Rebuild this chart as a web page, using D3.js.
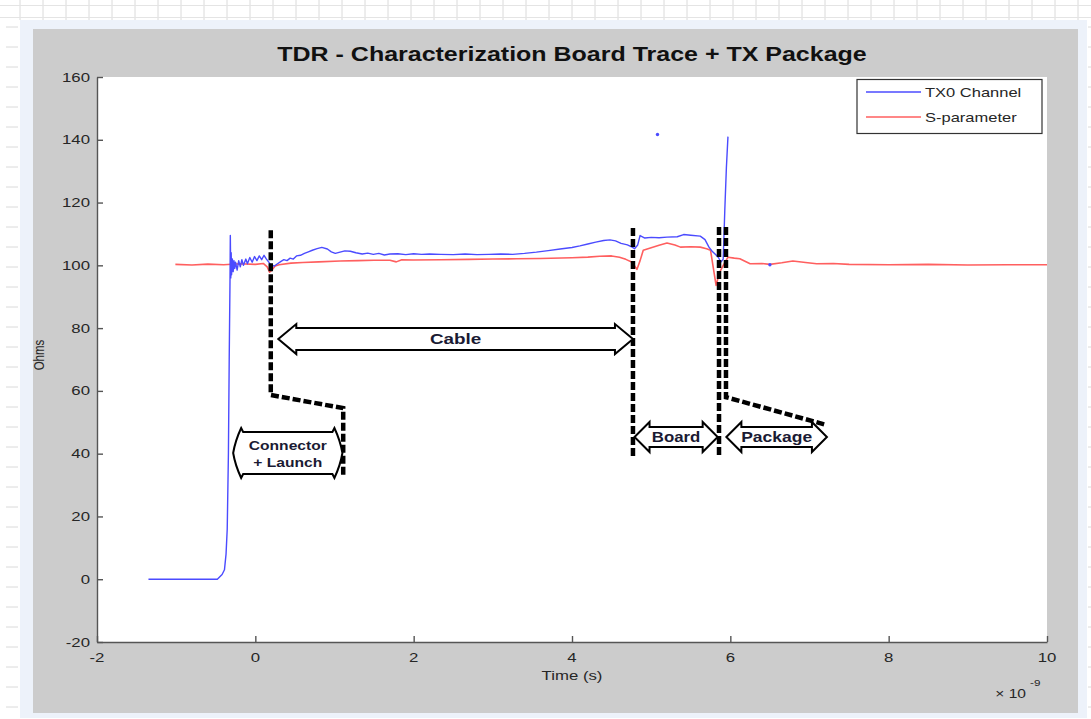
<!DOCTYPE html>
<html><head><meta charset="utf-8">
<script src="https://cdn.jsdelivr.net/npm/d3@7"></script>
<style>html,body{margin:0;padding:0;background:#fff;}svg{display:block;font-family:"Liberation Sans",Arial,sans-serif;}</style>
</head><body><svg id="chart" width="1091" height="719"></svg>
<script>
// ---------------- DATA ----------------
const chartTitle = "TDR - Characterization Board Trace + TX Package";
const xTicks = [-2, 0, 2, 4, 6, 8, 10];
const yTicks = [-20, 0, 20, 40, 60, 80, 100, 120, 140, 160];
const seriesNames = ["TX0 Channel", "S-parameter"];

// TX0 Channel (time in ns, impedance in ohms)
const tx0Time = [-1.35,-0.48,-0.42,-0.39,-0.37,-0.355,-0.34,-0.33,-0.32,-0.316,
  -0.31,-0.305,-0.30,-0.29,-0.28,-0.27,-0.26,-0.25,-0.23,-0.21,
  -0.19,-0.17,-0.15,-0.12,-0.10,-0.07,-0.04,-0.01,0.02,0.05,
  0.08,0.11,0.14,0.17,0.20,0.24,0.28,0.32,0.36,0.40,
  0.44,0.48,0.52,0.57,0.62,0.67,0.72,0.78,0.84,0.91,
  0.96,1.01,1.07,1.13,1.2,1.27,1.35,1.42,1.49,1.56,
  1.63,1.7,1.8,1.9,2.0,2.1,2.2,2.34,2.5,2.65,
  2.8,2.95,3.1,3.25,3.4,3.55,3.7,3.85,4.0,4.1,
  4.2,4.3,4.4,4.48,4.55,4.62,4.7,4.76,4.79,4.83,
  4.86,4.92,5.0,5.1,5.2,5.33,5.41,5.5,5.62,5.68,
  5.73,5.77,5.81,5.85,5.88,5.91,5.93,5.95,5.97];
const tx0Ohms = [0,0,1.5,3,8,16,40,70,95,109.5,
  96,104,97,102,98,101.5,99,101,98.5,101.5,
  99.5,101.8,100,102,100.5,102.5,101,102.8,101.5,103,
  101.8,103.2,102,101,100,99.8,100.5,101.2,101.8,101.5,
  102.3,102.0,103,103.2,103.8,104.3,104.8,105.3,105.7,105.2,
  104.3,103.8,104.2,104.6,104.5,104.0,103.6,103.9,103.5,103.8,
  103.3,103.6,103.7,103.4,103.7,103.5,103.6,103.5,103.4,103.6,
  103.4,103.5,103.6,103.5,103.8,104.2,104.7,105.2,105.7,106.2,
  106.8,107.4,107.9,108.1,107.8,107.0,106.5,105.8,105.3,106.5,
  109.5,108.7,108.9,108.8,109.0,109.1,109.8,109.6,109.3,108.2,
  105.8,104.5,103.5,102.5,101,102,117.5,131,141];
const tx0DotTime = [5.08, 6.5];
const tx0DotOhms = [141.7, 100.2];

// S-parameter
const sparTime = [-1.01,-0.8,-0.6,-0.4,-0.2,0.0,0.1,0.15,0.18,0.21,
  0.25,0.3,0.45,0.6,0.8,1.07,1.3,1.5,1.7,1.78,
  1.85,2.0,2.34,2.7,3.0,3.3,3.6,4.0,4.2,4.35,
  4.5,4.6,4.68,4.76,4.82,4.86,4.9,5.0,5.1,5.2,
  5.3,5.37,5.5,5.62,5.7,5.75,5.79,5.82,5.86,5.9,
  5.97,6.05,6.12,6.25,6.4,6.5,6.65,6.79,6.95,7.09,
  7.3,7.5,8.0,8.5,9.0,9.5,10.0];
const sparOhms = [100.3,100.1,100.4,100.2,100.5,100.3,100.6,99.5,97.8,98.5,
  99.8,100.2,100.7,100.9,101.1,101.4,101.5,101.6,101.6,101.1,
  101.8,101.7,101.8,101.9,102.0,102.1,102.2,102.4,102.6,102.9,
  103.0,102.6,101.9,101.0,98.7,101.5,104.8,105.6,106.4,107.1,
  106.5,105.8,105.9,105.8,105.3,104.8,98.4,93.6,97.5,99.5,
  102.6,102.3,102.1,100.5,100.6,100.3,100.8,101.4,100.9,100.5,
  100.6,100.3,100.2,100.3,100.1,100.2,100.2];

// Annotation dividers (time ns, ohms)
const dividerTime = [[0.195,0.195,1.11,1.11],[4.77,4.77],[5.857,5.857],[5.945,5.945,7.22]];
const dividerOhms = [[111.2,58.7,54.5,33.2],[111.9,38.3],[112.2,38.6],[112.2,58.0,49.1]];

// Region arrows
const regionLabels = [["Cable"], ["Connector", "+ Launch"], ["Board"], ["Package"]];
const regionStart = [0.29, -0.28, 4.79, 5.95];
const regionEnd   = [4.77, 1.10, 5.84, 7.22];
const regionOhms  = [76.5, 40.2, 45.3, 45.3];

// ---------------- LAYOUT / STYLE ----------------
const W = 1091, H = 719;
const plot = {left: 97, right: 1047, top: 77, bottom: 642};
const blue = "#4b4bff", red = "#ff5f5f";
const SX = 1.37; // horizontal stretch of the screenshot text

const svg = d3.select("#chart");

// spreadsheet-like background
const bg = svg.append("g");
for (let x = 20; x < W; x += 23) bg.append("line").attr("x1", x).attr("x2", x).attr("y1", 0).attr("y2", 20).attr("stroke", "#dadada");
bg.append("line").attr("x1", 0).attr("x2", W).attr("y1", 5.5).attr("y2", 5.5).attr("stroke", "#e4e4e4");
bg.append("line").attr("x1", 0).attr("x2", W).attr("y1", 17.5).attr("y2", 17.5).attr("stroke", "#e4e4e4");
for (let y = 27; y < H; y += 20) {
  bg.append("line").attr("x1", 6).attr("x2", 18).attr("y1", y).attr("y2", y).attr("stroke", "#dadada");
  bg.append("line").attr("x1", 1088).attr("x2", 1091).attr("y1", y).attr("y2", y).attr("stroke", "#dadada");
}
svg.append("rect").attr("x", 20).attr("y", 20).attr("width", 1067).attr("height", 698).attr("fill", "#edf2fa");
svg.append("rect").attr("x", 33).attr("y", 29).attr("width", 1045).attr("height", 684).attr("fill", "#cccccc");
svg.append("rect").attr("x", plot.left).attr("y", plot.top).attr("width", plot.right - plot.left).attr("height", plot.bottom - plot.top).attr("fill", "#fff");

function stext(g, x, y, str, o = {}) {
  const sx = o.sx || SX;
  return g.append("text")
    .attr("transform", `translate(${x},${y})` + (o.rotate ? " rotate(-90)" : "") + (o.rotate ? ` scale(1,${sx})` : ` scale(${sx},1)`))
    .attr("text-anchor", o.anchor || "middle")
    .attr("font-size", o.size || 12)
    .attr("font-weight", o.weight || "normal")
    .attr("fill", o.fill || "#262626")
    .text(str);
}

const x = d3.scaleLinear().domain([-2, 10]).range([plot.left, plot.right]);
const y = d3.scaleLinear().domain([-20, 160]).range([plot.bottom, plot.top]);

// axes
const xAxis = svg.append("g").attr("transform", `translate(0,${plot.bottom})`)
  .call(d3.axisBottom(x).tickValues(xTicks).tickSizeInner(-6).tickSizeOuter(0).tickFormat(""));
const yAxis = svg.append("g").attr("transform", `translate(${plot.left},0)`)
  .call(d3.axisLeft(y).tickValues(yTicks).tickSizeInner(-6).tickSizeOuter(0).tickFormat(""));
[xAxis, yAxis].forEach(a => { a.selectAll("path,line").attr("stroke", "#555").attr("stroke-width", 1.4); });
const tl = svg.append("g");
xTicks.forEach(t => stext(tl, x(t), plot.bottom + 20, String(t), {size: 12, sx: 1.4}));
yTicks.forEach(t => stext(tl, plot.left - 7, y(t) + 4.5, String(t), {size: 12, sx: 1.4, anchor: "end"}));

// titles
stext(svg, (plot.left + plot.right) / 2, 61, chartTitle, {size: 20, sx: 1.25, weight: "bold", fill: "#111"});
stext(svg, (plot.left + plot.right) / 2, 680, "Time (s)", {size: 12, sx: 1.4});
stext(svg, 44, 355, "Ohms", {size: 11.5, sx: 1.3, rotate: true});
stext(svg, 1026, 698, "\u00d7 10", {size: 12, sx: 1.3, anchor: "end"});
stext(svg, 1030, 686, "-9", {size: 9, sx: 1.3, anchor: "start"});

// data lines
const line = d3.line().x(d => x(d[0])).y(d => y(d[1]));
svg.append("path").datum(d3.zip(sparTime, sparOhms)).attr("d", line)
  .attr("fill", "none").attr("stroke", red).attr("stroke-width", 1.6).attr("stroke-linejoin", "round");
svg.append("path").datum(d3.zip(tx0Time, tx0Ohms)).attr("d", line)
  .attr("fill", "none").attr("stroke", blue).attr("stroke-width", 1.4).attr("stroke-linejoin", "round");
svg.append("g").selectAll("circle").data(d3.zip(tx0DotTime, tx0DotOhms)).join("circle")
  .attr("cx", d => x(d[0])).attr("cy", d => y(d[1])).attr("r", 1.7).attr("fill", blue);

// dashed dividers
const ann = svg.append("g");
dividerTime.forEach((ts, i) => {
  ann.append("path").datum(d3.zip(ts, dividerOhms[i])).attr("d", line)
    .attr("fill", "none").attr("stroke", "#000").attr("stroke-width", 4.5)
    .attr("stroke-dasharray", "8,3").attr("stroke-linejoin", "miter");
});

// double arrows
const arrowStyle = [
  {hs: 11, hh: 15, hl: 18, curved: false, size: 14.5, sx: 1.3},
  {hs: 21, hh: 25, hl: 10, curved: true, size: 12.5, sx: 1.25},
  {hs: 10, hh: 15, hl: 15, curved: false, size: 14, sx: 1.2},
  {hs: 10, hh: 15, hl: 15, curved: false, size: 14, sx: 1.25}
];
regionLabels.forEach((lab, i) => {
  const s = arrowStyle[i];
  const x1 = x(regionStart[i]), x2 = x(regionEnd[i]), yc = y(regionOhms[i]);
  const p = d3.path();
  if (!s.curved) {
    p.moveTo(x1, yc); p.lineTo(x1 + s.hl, yc - s.hh); p.lineTo(x1 + s.hl, yc - s.hs);
    p.lineTo(x2 - s.hl, yc - s.hs); p.lineTo(x2 - s.hl, yc - s.hh); p.lineTo(x2, yc);
    p.lineTo(x2 - s.hl, yc + s.hh); p.lineTo(x2 - s.hl, yc + s.hs); p.lineTo(x1 + s.hl, yc + s.hs);
    p.lineTo(x1 + s.hl, yc + s.hh); p.closePath();
  } else {
    p.moveTo(x1 + s.hl, yc - s.hs); p.lineTo(x2 - s.hl, yc - s.hs);
    p.lineTo(x2 - s.hl + 2, yc - s.hh);
    p.quadraticCurveTo(x2 - 2, yc - 12, x2, yc);
    p.quadraticCurveTo(x2 - 2, yc + 12, x2 - s.hl + 2, yc + s.hh);
    p.lineTo(x2 - s.hl, yc + s.hs); p.lineTo(x1 + s.hl, yc + s.hs);
    p.lineTo(x1 + s.hl - 2, yc + s.hh);
    p.quadraticCurveTo(x1 + 2, yc + 12, x1, yc);
    p.quadraticCurveTo(x1 + 2, yc - 12, x1 + s.hl - 2, yc - s.hh);
    p.closePath();
  }
  ann.append("path").attr("d", p.toString()).attr("fill", "#fff").attr("stroke", "#000").attr("stroke-width", 2);
  const n = lab.length, lh = 17;
  lab.forEach((t, j) => {
    stext(ann, (x1 + x2) / 2, yc + 5 + (j - (n - 1) / 2) * lh, t, {size: s.size, sx: s.sx, weight: "bold", fill: "#1a1a33"});
  });
});

// legend
const lg = svg.append("g");
lg.append("rect").attr("x", 857).attr("y", 79.5).attr("width", 185).attr("height", 54)
  .attr("fill", "#fff").attr("stroke", "#333").attr("stroke-width", 1.2);
[blue, red].forEach((c, i) => {
  const ly = 92 + i * 25;
  lg.append("line").attr("x1", 866).attr("x2", 921).attr("y1", ly).attr("y2", ly).attr("stroke", c).attr("stroke-width", 1.5);
  stext(lg, 925, ly + 4.5, seriesNames[i], {size: 12.5, sx: 1.32, anchor: "start"});
});
</script></body></html>
